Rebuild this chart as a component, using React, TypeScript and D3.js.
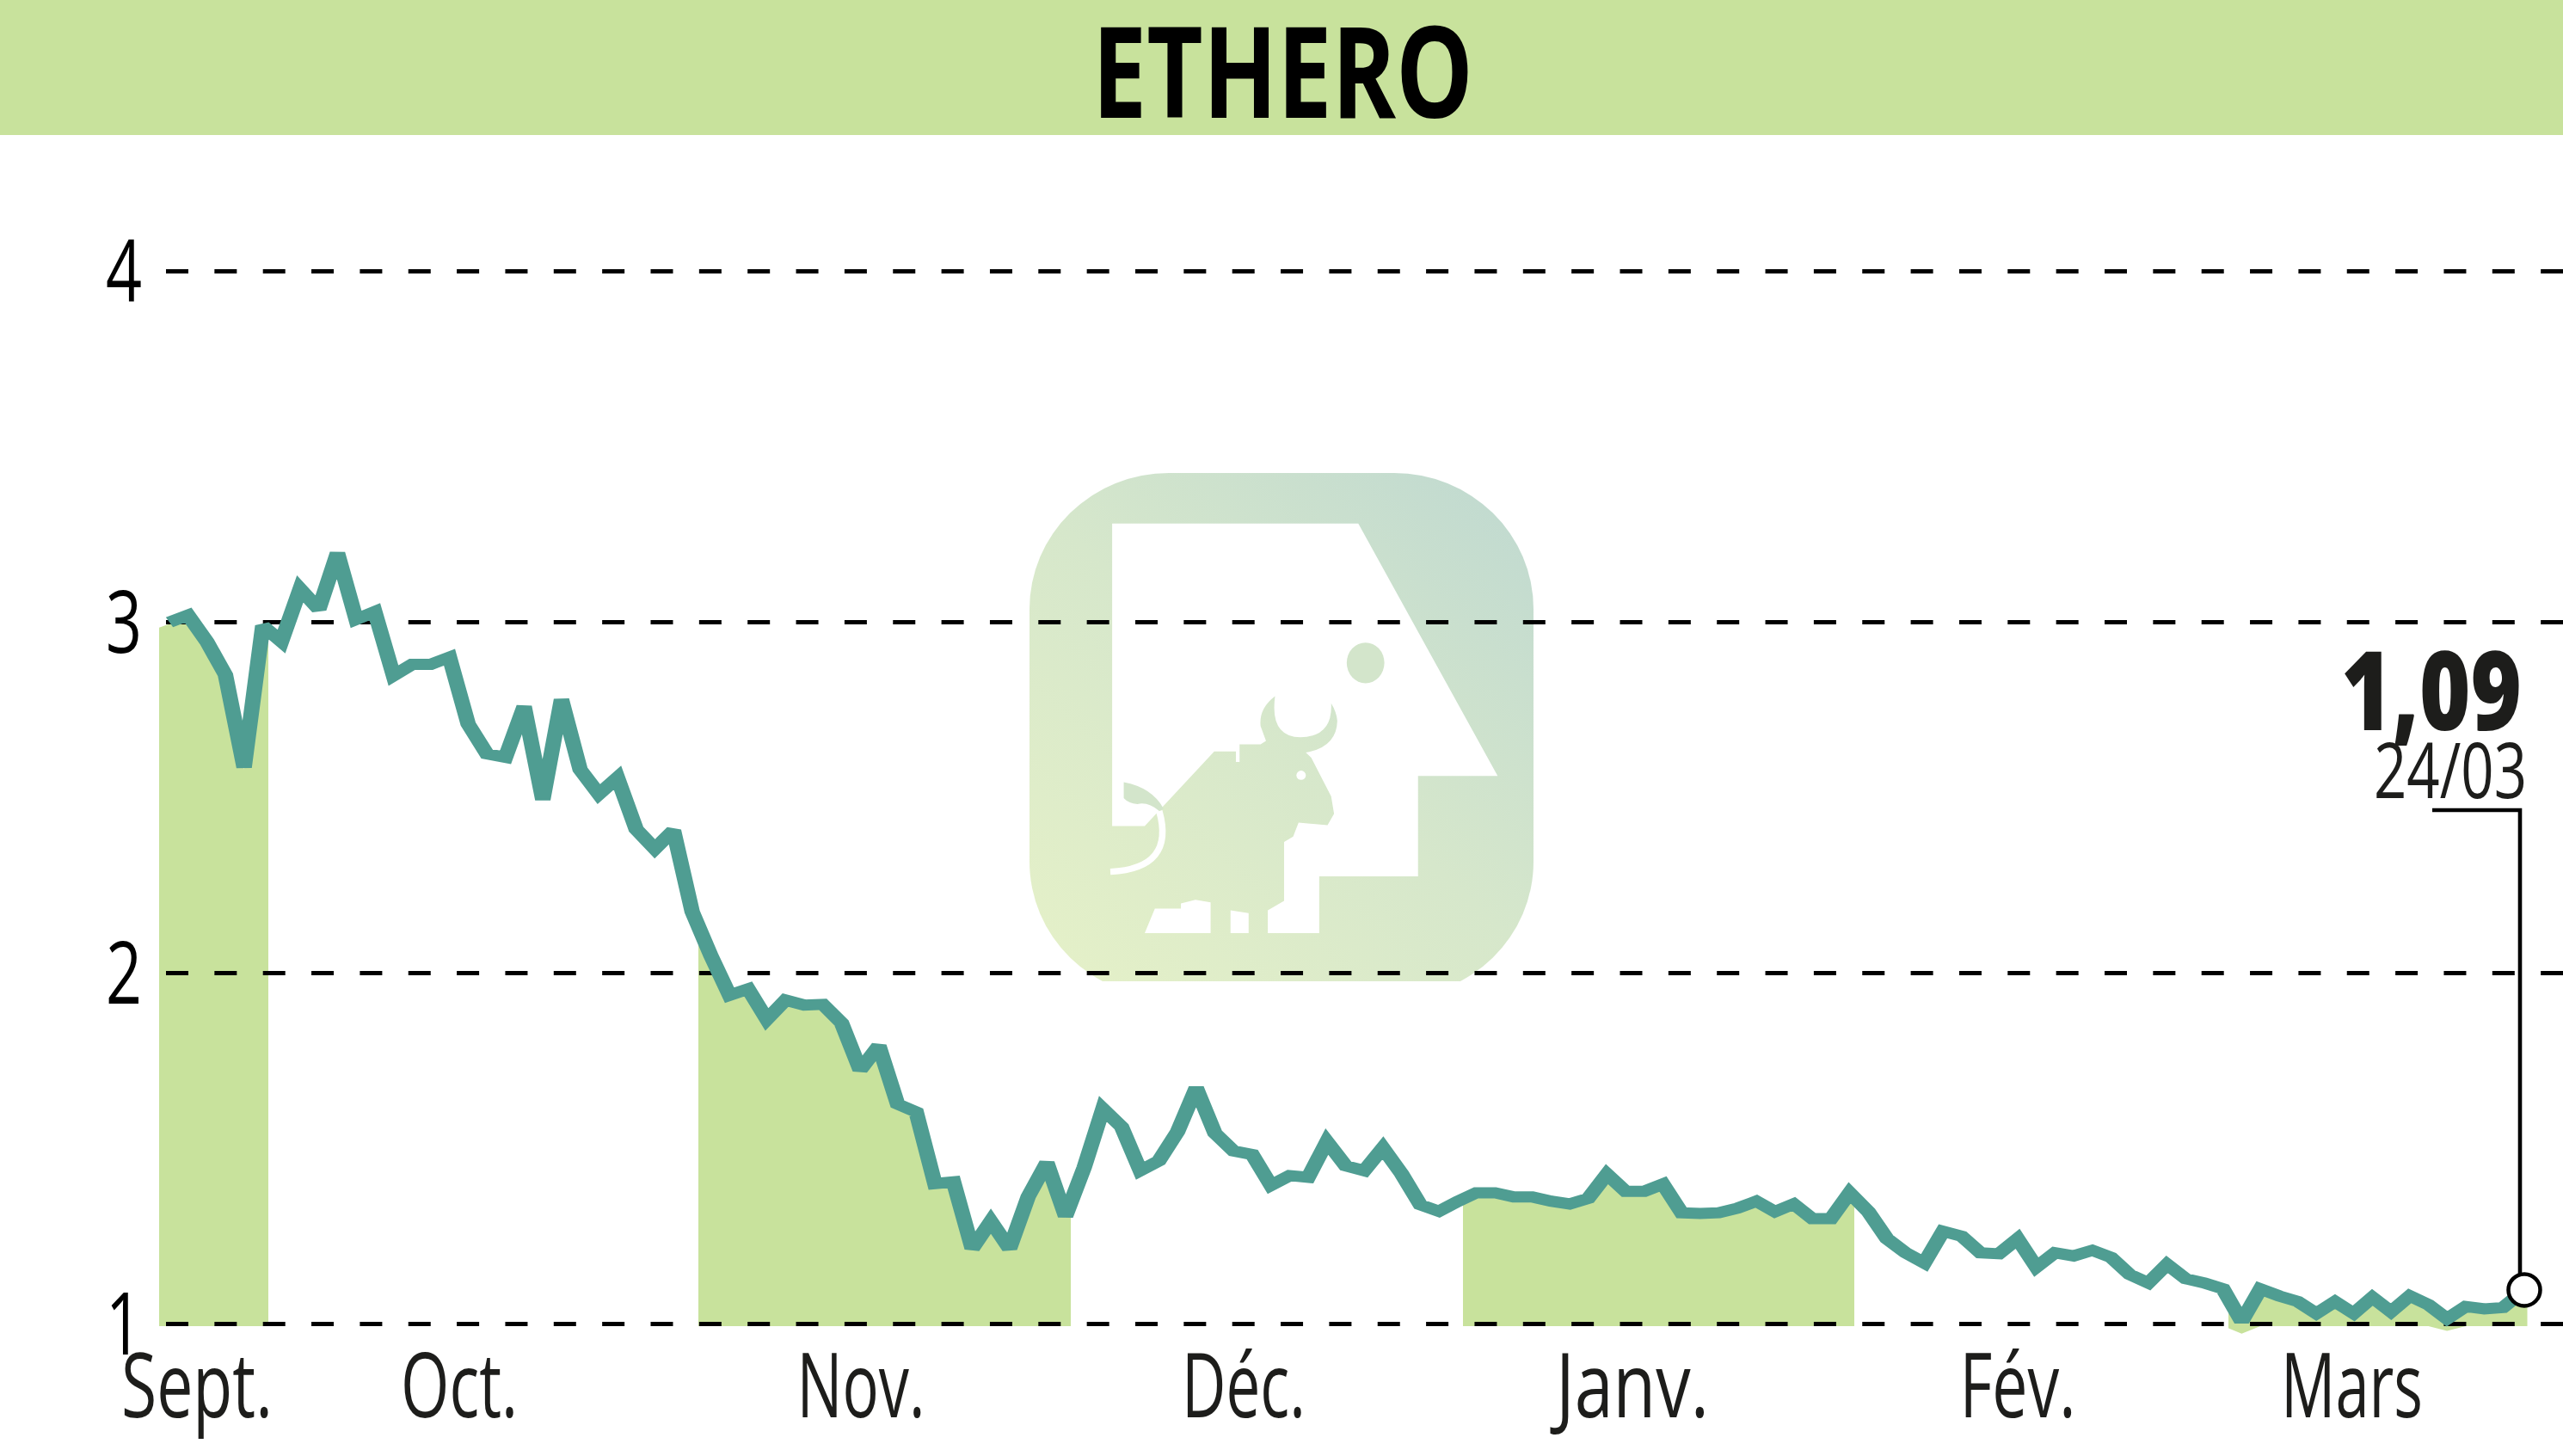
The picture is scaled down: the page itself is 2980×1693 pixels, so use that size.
import React from "react";
import * as d3 from "d3";

const title = "ETHERO";
const prices = [
  3.0, 3.02, 2.945, 2.85, 2.586, 2.99, 2.945, 3.095, 3.037, 3.197, 3.008, 3.03, 2.848, 2.88, 2.88, 2.9,
  2.71, 2.625, 2.615, 2.76, 2.494, 2.78, 2.58, 2.51, 2.557, 2.41, 2.354, 2.407, 2.175,
  2.05, 1.937, 1.955, 1.868, 1.923, 1.909, 1.911, 1.858, 1.724, 1.793, 1.627, 1.604, 1.4, 1.405, 1.215,
  1.293, 1.215, 1.363, 1.46, 1.307, 1.446, 1.613, 1.562, 1.437, 1.465, 1.548, 1.673, 1.544, 1.493, 1.483,
  1.395, 1.423, 1.418, 1.52, 1.451, 1.437, 1.502, 1.428, 1.34, 1.321, 1.349,
  1.374, 1.374, 1.362, 1.362, 1.35, 1.342, 1.358, 1.427, 1.378, 1.378, 1.399, 1.317, 1.315, 1.317, 1.33,
  1.35, 1.32, 1.342, 1.3, 1.3, 1.374, 1.32, 1.243, 1.203, 1.174, 1.264, 1.25, 1.203, 1.2, 1.243, 1.162,
  1.203, 1.194, 1.21, 1.19, 1.141, 1.117, 1.17, 1.129, 1.117, 1.1, 1.007, 1.1, 1.08, 1.064, 1.03, 1.064,
  1.03, 1.076, 1.035, 1.08, 1.055, 1.015, 1.05, 1.043, 1.047, 1.09,
];
const yTicks = [1, 2, 3, 4];
const monthLabels = ["Sept.", "Oct.", "Nov.", "Déc.", "Janv.", "Fév.", "Mars"];
const monthCenters = [1.47, 15.53, 37.04, 57.54, 78.36, 99.0, 116.9];
const monthWidths = [176, 136, 149, 144, 178, 135, 165];
const bandStarts = [-0.55, 28.33, 69.29, 110.29];
const bandEnds = [5.3, 48.28, 90.25, 126.3];
const lastValue = "1,09";
const lastDate = "24/03";

const W = 2980;
const H = 1693;
const x = d3.scaleLinear().domain([0, prices.length - 1]).range([197, 2932]);
const y = d3.scaleLinear().domain([1, 4]).range([1539.5, 315.5]);

const GREEN = "#c8e29c";
const TEAL = "#4f9d92";
const INK = "#1d1d1b";
const FONT = "'Open Sans', 'Noto Sans', sans-serif";
const PEN_SQUASH = 0.72; // the reference pen is wider than it is tall

type P = { i: number; v: number };
const pts: P[] = prices.map((v, i) => ({ i, v }));
const areaPts: P[] = [{ i: -0.8, v: prices[0] - 0.015 }, ...pts, { i: 127, v: prices[prices.length - 1] }];

const linePath = d3.line<P>().x((d) => x(d.i)).y((d) => y(d.v) / PEN_SQUASH)(pts) as string;
const areaPath = d3
  .area<P>()
  .x((d) => x(d.i))
  .y1((d) => y(d.v) + 2)
  .y0((d) => Math.max(y(1) + 2.5, y(d.v) + 14))(areaPts) as string;

const bands = bandStarts.map((s, k) => ({ s, e: bandEnds[k] }));
const LOGO = "translate(1150,530) scale(0.42088,0.40816)";

export default function App() {
  return (
    <svg
      width={W}
      height={H}
      viewBox={`0 0 ${W} ${H}`}
      style={{ position: "fixed", left: 0, top: 0, display: "block", background: "#fff" }}
    >
      <defs>
        <linearGradient id="logoGrad" gradientUnits="userSpaceOnUse" x1="1240" y1="1130" x2="1750" y2="570">
          <stop offset="0" stopColor="#e4f0c8" />
          <stop offset="0.5" stopColor="#d6e7cb" />
          <stop offset="1" stopColor="#c1dad0" />
        </linearGradient>
        {bands.map((b, k) => (
          <clipPath id={`band${k}`} key={k}>
            <rect x={x(b.s)} y={0} width={x(b.e) - x(b.s)} height={H} />
          </clipPath>
        ))}
        <clipPath id="logoClip">
          <rect x={1190} y={540} width={600} height={601} />
        </clipPath>
      </defs>

      <rect x={0} y={0} width={W} height={157} fill={GREEN} />
      <text
        x={1270}
        y={137}
        fontFamily={FONT}
        fontWeight={700}
        fontSize={148}
        fill="#000"
        textLength={443}
        lengthAdjust="spacingAndGlyphs"
      >
        {title}
      </text>

      {/* watermark */}
      <g clipPath="url(#logoClip)">
        <rect x={1197} y={550} width={586} height={610} rx={162} ry={158} fill="url(#logoGrad)" />
      </g>
      <g transform={LOGO}>
        <path
          fill="#fff"
          d="M340,193 H1020 L1405,912 H1185 V1198 H912 V1360 H770 V1295 L815,1268 V1100 L840,1085 L855,1045 L935,1052 L953,1020 L945,970 L890,860 L875,845 Q960,830 962,755 Q960,730 945,705 Q950,800 860,802 Q775,800 790,685 Q745,720 750,770 L765,812 L750,822 H692 V872 H682 V842 H622 L430,1055 H340 Z"
        />
        <path d="M430,1360 L458,1290 H530 V1275 L570,1265 L612,1272 V1360 Z" fill="#fff" />
        <path d="M667,1295 L717,1303 V1360 H667 Z" fill="#fff" />
        <circle cx={862} cy={910} r={13} fill="#fff" />
        <path d="M470,1012 Q515,1175 335,1185" fill="none" stroke="#fff" strokeWidth={18} />
      </g>
      <g transform={LOGO} fill="#d3e5cb">
        <ellipse cx={1040} cy={590} rx={52} ry={58} />
        <path d="M372,930 Q450,945 482,1005 L470,1012 Q440,985 410,992 Q385,990 372,975 Z" />
      </g>

      {/* shaded bands */}
      {bands.map((_, k) => (
        <path key={k} d={areaPath} fill={GREEN} clipPath={`url(#band${k})`} />
      ))}

      {/* grid */}
      {yTicks.map((t) => (
        <line
          key={t}
          x1={193}
          x2={W}
          y1={y(t)}
          y2={y(t)}
          stroke="#000"
          strokeWidth={5}
          strokeDasharray="26 30.35"
        />
      ))}

      {/* price line */}
      <g transform={`scale(1,${PEN_SQUASH})`}>
        <path
          d={linePath}
          fill="none"
          stroke={TEAL}
          strokeWidth={18}
          strokeLinejoin="miter"
          strokeMiterlimit={2.5}
          strokeLinecap="butt"
        />
      </g>

      {/* y labels */}
      {yTicks.map((t) => (
        <text
          key={t}
          x={123}
          y={y(t) + 35}
          fontFamily={FONT}
          fontSize={100}
          fill="#000"
          textLength={42}
          lengthAdjust="spacingAndGlyphs"
        >
          {t}
        </text>
      ))}

      {/* x labels */}
      {monthLabels.map((m, k) => (
        <text
          key={m}
          x={x(monthCenters[k]) - monthWidths[k] / 2}
          y={1648}
          fontFamily={FONT}
          fontSize={105}
          fill={INK}
          textLength={monthWidths[k]}
          lengthAdjust="spacingAndGlyphs"
        >
          {m}
        </text>
      ))}

      {/* last value callout */}
      <text
        x={2722}
        y={849}
        fontFamily={FONT}
        fontWeight={800}
        fontSize={127}
        fill={INK}
        textLength={210}
        lengthAdjust="spacingAndGlyphs"
      >
        {lastValue}
      </text>
      <text
        x={2760}
        y={928}
        fontFamily={FONT}
        fontSize={90}
        fill={INK}
        textLength={178}
        lengthAdjust="spacingAndGlyphs"
      >
        {lastDate}
      </text>
      <path d={`M2828,942 H2930 V${y(1.097)}`} fill="none" stroke="#000" strokeWidth={4.6} />
      <circle cx={2935} cy={y(1.097)} r={18.5} fill="#fff" stroke="#000" strokeWidth={4.5} />
    </svg>
  );
}
